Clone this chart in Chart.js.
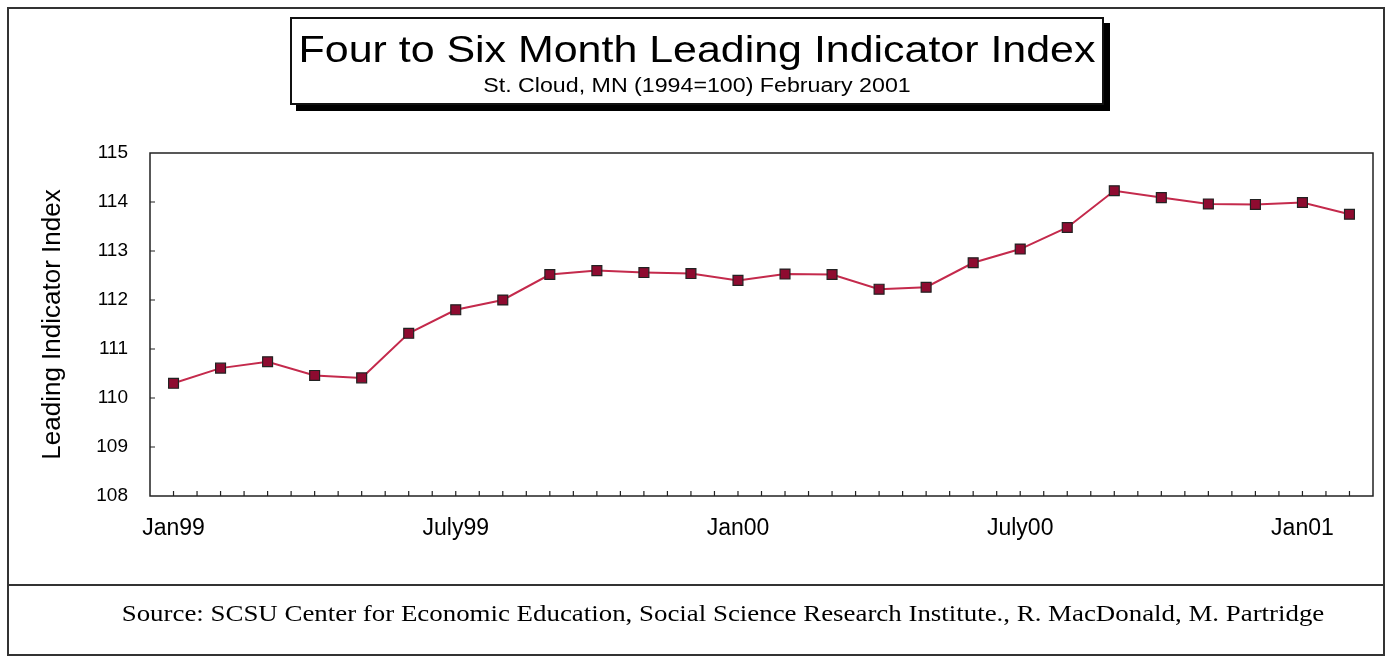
<!DOCTYPE html>
<html>
<head>
<meta charset="utf-8">
<script src="https://cdn.jsdelivr.net/npm/chart.js@4.4.0/dist/chart.umd.min.js"></script>
<style>
  html, body { margin: 0; padding: 0; background: #fff; }
  body { width: 1389px; height: 659px; position: relative; overflow: hidden; font-family: "Liberation Sans", Arial, sans-serif; }
  #frame { position: absolute; left: 7px; top: 7px; width: 1378px; height: 649px; border: 2px solid #333; box-sizing: border-box; }
  #sep { position: absolute; left: 7px; top: 584px; width: 1378px; height: 0; border-top: 2px solid #333; }
  #titleBox { position: absolute; left: 290px; top: 17px; width: 814px; height: 88px; border: 2px solid #111; box-sizing: border-box; background: #fff; box-shadow: 6px 6px 0 #000; text-align: center; }
  #titleBox .t { font-size: 37px; margin-top: 10px; line-height: 42px; transform: scaleX(1.16); }
  #titleBox .s { font-size: 20px; margin-top: 3px; line-height: 22px; transform: scaleX(1.16); }
  #source { position: absolute; left: 34px; width: 1378px; top: 600px; text-align: center; font-family: "Liberation Serif", "Times New Roman", serif; font-size: 24px; transform: scaleX(1.12); }
  canvas { position: absolute; left: 0; top: 0; }
</style>
</head>
<body>
<div id="frame"></div>
<div id="sep"></div>
<canvas id="chart" width="1389" height="659"></canvas>
<div id="titleBox">
  <div class="t">Four to Six Month Leading Indicator Index</div>
  <div class="s">St. Cloud, MN (1994=100) February 2001</div>
</div>
<div id="source">Source: SCSU Center for Economic Education, Social Science Research Institute., R. MacDonald, M. Partridge</div>
<script>
const months = [
  "Jan99", "Feb99", "Mar99", "Apr99", "May99", "June99", "July99", "Aug99", "Sep99", "Oct99", "Nov99", "Dec99",
  "Jan00", "Feb00", "Mar00", "Apr00", "May00", "June00", "July00", "Aug00", "Sep00", "Oct00", "Nov00", "Dec00",
  "Jan01", "Feb01",
];
const indexValues = [
  110.30, 110.61, 110.74, 110.46, 110.41, 111.32, 111.80, 112.00, 112.52, 112.60, 112.56, 112.54,
  112.40, 112.53, 112.52, 112.22, 112.26, 112.76, 113.04, 113.48, 114.23, 114.09, 113.96, 113.95,
  113.99, 113.75,
];
const shownTickLabels = ["Jan99", "July99", "Jan00", "July00", "Jan01"];
const yMin = 108;
const yMax = 115;

const font = "'Liberation Sans', Arial, sans-serif";

// plot frame + short inward tick marks, like the original spreadsheet chart
const frameTicks = {
  id: "frameTicks",
  afterDatasetsDraw(chart) {
    const { ctx, chartArea: a, scales } = chart;
    ctx.save();
    ctx.strokeStyle = "#222";
    ctx.lineWidth = 1.5;
    ctx.strokeRect(a.left, a.top, a.right - a.left, a.bottom - a.top);
    ctx.lineWidth = 1.2;
    ctx.beginPath();
    const x = scales.x;
    const half = (x.getPixelForValue(1) - x.getPixelForValue(0)) / 2;
    for (let i = 0; i < months.length; i++) {
      const px = x.getPixelForValue(i);
      ctx.moveTo(px, a.bottom);
      ctx.lineTo(px, a.bottom - 5);
      if (i < months.length - 1) {
        ctx.moveTo(px + half, a.bottom);
        ctx.lineTo(px + half, a.bottom - 5);
      }
    }
    const y = scales.y;
    for (let v = yMin + 1; v < yMax; v++) {
      const py = y.getPixelForValue(v);
      ctx.moveTo(a.left, py);
      ctx.lineTo(a.left + 5, py);
    }
    ctx.stroke();
    ctx.restore();
  },
};

new Chart(document.getElementById("chart"), {
  type: "line",
  data: {
    labels: months,
    datasets: [
      {
        data: indexValues,
        borderColor: "#c42a4c",
        borderWidth: 2,
        pointStyle: "rect",
        pointRadius: 7,
        pointBackgroundColor: "#8e0b30",
        pointBorderColor: "#222",
        pointBorderWidth: 1.2,
        tension: 0,
      },
    ],
  },
  options: {
    responsive: false,
    animation: false,
    events: [],
    layout: { padding: { left: 37, top: 153, right: 16, bottom: 0 } },
    plugins: { legend: { display: false }, tooltip: { enabled: false } },
    scales: {
      x: {
        type: "category",
        offset: true,
        grid: { display: false, drawTicks: false },
        border: { display: false },
        afterFit: (s) => { s.height = 163; },
        ticks: {
          autoSkip: false,
          maxRotation: 0,
          padding: 19,
          color: "#000",
          font: { family: font, size: 23 },
          callback: (v, i) => (shownTickLabels.includes(months[i]) ? months[i] : ""),
        },
      },
      y: {
        min: yMin,
        max: yMax,
        grid: { display: false, drawTicks: false },
        border: { display: false },
        afterFit: (s) => { s.width = 113; },
        ticks: { stepSize: 1, padding: 22, color: "#000", font: { family: font, size: 19 } },
        title: {
          display: true,
          text: "Leading Indicator Index",
          color: "#000",
          font: { family: font, size: 26 },
          padding: { top: 0, bottom: 0 },
        },
      },
    },
  },
  plugins: [frameTicks],
});
</script>
</body>
</html>
